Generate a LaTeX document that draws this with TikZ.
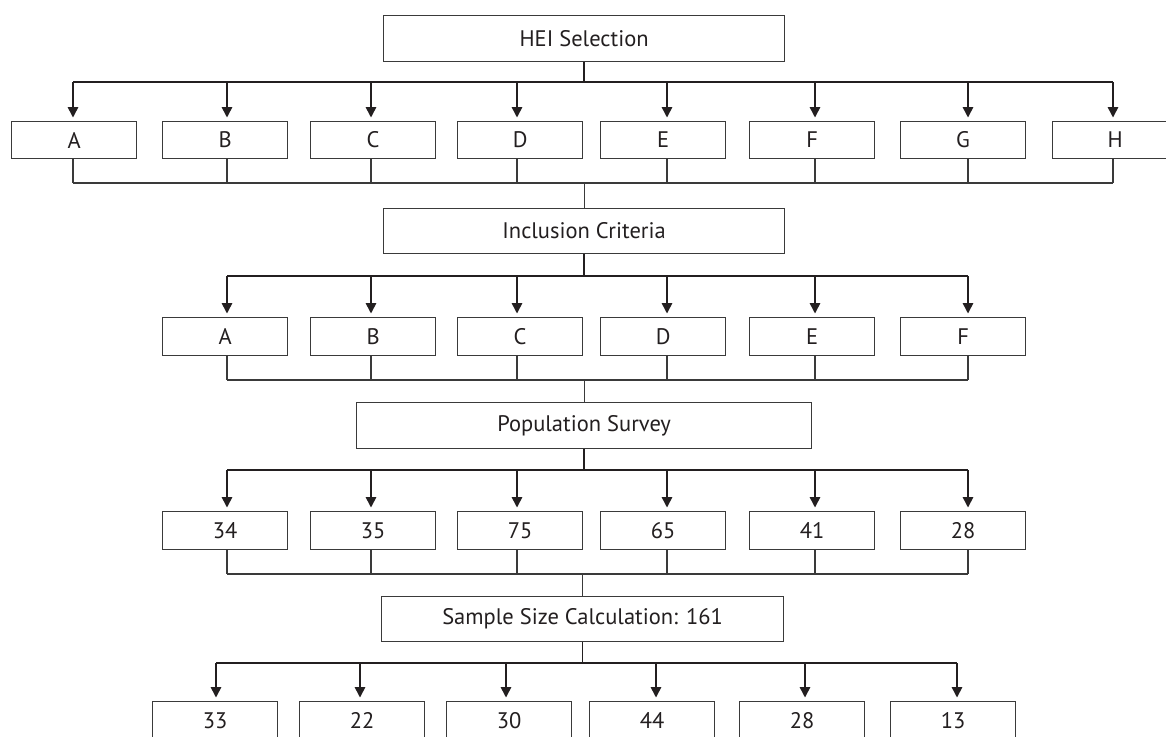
\documentclass[tikz,border=0pt]{standalone}
\usepackage{fontspec}
\setmainfont{PT Sans}
\usetikzlibrary{arrows.meta}
\definecolor{boxline}{HTML}{3A3A3A}
\definecolor{arrline}{HTML}{231F20}
\tikzset{
  box/.style={draw=boxline, line width=1.2pt, rectangle, inner sep=0pt, anchor=north west,
    minimum width=125pt, minimum height=37pt, font=\fontsize{22.5}{27}\selectfont, text=arrline},
  mainbox/.style={draw=boxline, line width=1.2pt, rectangle, inner sep=0pt, anchor=north west,
    font=\fontsize{22.5}{27}\selectfont, text=arrline},
  branch/.style={draw=arrline, line width=1.5pt},
  arr/.style={draw=arrline, line width=1.6pt, -{Triangle[width=10.5pt,length=10.5pt]}, shorten >=3.5pt},
  merge/.style={draw=boxline, line width=1.2pt},
}
\begin{document}
\begin{tikzpicture}[x=1pt,y=-1pt]
\useasboundingbox (0,0) rectangle (1166,736);
\clip (0,0) rectangle (1166,736);
\fill[white] (0,0) rectangle (1166,736);

% main boxes
\node[mainbox, minimum width=401pt, minimum height=46pt] (hei) at (383,15) {HEI Selection};
\node[mainbox, minimum width=401pt, minimum height=45pt] (inc) at (383,208) {Inclusion Criteria};
\node[mainbox, minimum width=455pt, minimum height=46pt] (pop) at (356,402) {Population Survey};
\node[mainbox, minimum width=402pt, minimum height=45pt] (sam) at (381,596) {Sample Size Calculation: 161};

% row 1
\coordinate (b1L) at (73,82);
\coordinate (b1R) at (1113,82);
\coordinate (m1L) at (73,183);
\coordinate (m1R) at (1113,183);
\draw[branch] (b1L) -- (b1R);
\draw[merge] (m1L) -- (m1R);
\draw[branch] (hei.south) -- (hei.south |- b1L);
\draw[merge] (inc.north |- m1L) -- (inc.north);
\foreach \n/\lx/\ax/\t in {a/11/73/A, b/162/227/B, c/310/371/C, d/457/517/D, e/600/667/E, f/749/815/F, g/900/968/G, h/1052/1113/H}{
  \node[box] (r1\n) at (\lx,121) {\t};
  \draw[arr] (\ax,82) -- (\ax,0 |- r1\n.north);
  \draw[merge] (\ax,0 |- r1\n.south) -- (\ax,0 |- m1L);
}

% row 2
\coordinate (b2L) at (227,276);
\coordinate (b2R) at (968,276);
\coordinate (m2L) at (227,380);
\coordinate (m2R) at (968,380);
\draw[branch] (b2L) -- (b2R);
\draw[merge] (m2L) -- (m2R);
\draw[branch] (inc.south) -- (inc.south |- b2L);
\draw[merge] (pop.north |- m2L) -- (pop.north);
\foreach \n/\lx/\ax/\t in {a/162/227/A, b/310/371/B, c/457/517/C, d/600/667/D, e/749/815/E, f/900/968/F}{
  \node[box, minimum height=38pt] (r2\n) at (\lx,317) {\t};
  \draw[arr] (\ax,276) -- (\ax,0 |- r2\n.north);
  \draw[merge] (\ax,0 |- r2\n.south) -- (\ax,0 |- m2L);
}

% row 3
\coordinate (b3L) at (227,470);
\coordinate (b3R) at (968,470);
\coordinate (m3L) at (227,574);
\coordinate (m3R) at (968,574);
\draw[branch] (b3L) -- (b3R);
\draw[merge] (m3L) -- (m3R);
\draw[branch] (pop.south) -- (pop.south |- b3L);
\draw[merge] (sam.north |- m3L) -- (sam.north);
\foreach \n/\lx/\ax/\t in {a/162/227/34, b/310/371/35, c/457/517/75, d/600/667/65, e/749/815/41, f/900/968/28}{
  \node[box, minimum height=38pt] (r3\n) at (\lx,511) {\t};
  \draw[arr] (\ax,470) -- (\ax,0 |- r3\n.north);
  \draw[merge] (\ax,0 |- r3\n.south) -- (\ax,0 |- m3L);
}

% row 4
\coordinate (b4L) at (216,663);
\coordinate (b4R) at (957,663);
\draw[branch] (b4L) -- (b4R);
\draw[branch] (sam.south) -- (sam.south |- b4L);
\foreach \n/\lx/\ax/\t in {a/152/216/33, b/299/360/22, c/446/506/30, d/589/656/44, e/739/805/28, f/890/957/13}{
  \node[box, minimum height=38pt] (r4\n) at (\lx,701) {\t};
  \draw[arr] (\ax,663) -- (\ax,0 |- r4\n.north);
}
\end{tikzpicture}
\end{document}
